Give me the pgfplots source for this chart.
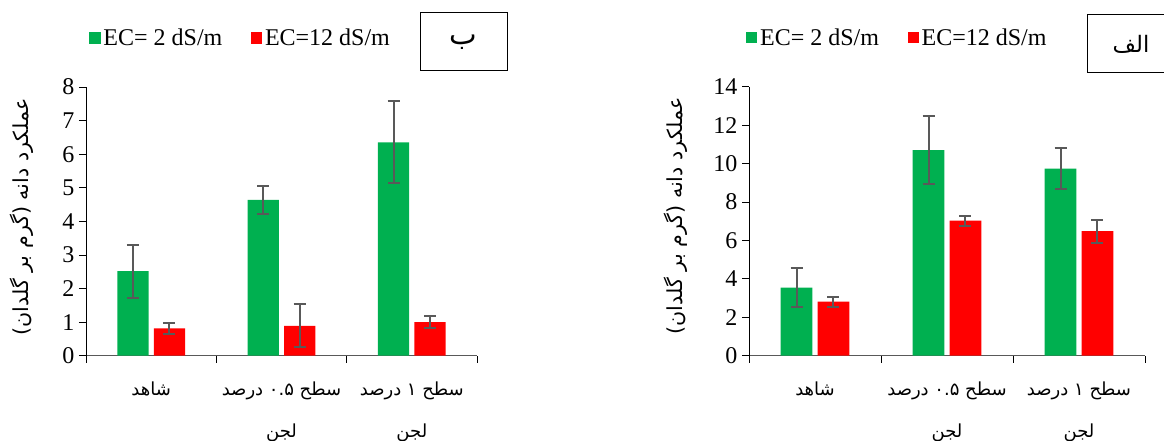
\documentclass[border=0pt]{standalone}
\usepackage{fontspec}
\setmainfont{Liberation Serif}
\newfontfamily\arabicfont[Script=Arabic]{DejaVu Sans}
\TeXXeTstate=1
\usepackage{pgfplots}
\pgfplotsset{compat=1.18}
\definecolor{cgreen}{HTML}{00B050}
\definecolor{cred}{HTML}{FF0000}
\definecolor{errgray}{HTML}{595959}
\pgfplotsset{
  panel/.style={
    scale only axis,
    axis lines*=left,
    tick align=outside,
    xmin=0.5, xmax=3.5, ymin=0,
    ybar, bar width=0.24,
    xtick={1,2,3},
    minor xtick={0.5,1.5,2.5,3.5},
    every major x tick/.append style={draw=none},
    major tick length=5.25pt, minor tick length=5.25pt,
    x axis line style={color=errgray, line width=0.8pt},
    y axis line style={color=black, line width=0.6pt},
    every tick/.append style={color=black, line width=0.6pt},
    /pgf/number format/assume math mode=true,
    yticklabel style={font=\fontsize{18}{22}\selectfont},
    xticklabel style={font=\arabicfont\fontsize{13.5}{31}\selectfont, align=center, anchor=north, yshift=-11pt},
    xticklabels={{\beginR شاهد\endR},{\beginR سطح ۰.۵ درصد\endR\\\beginR لجن\endR},{\beginR سطح ۱ درصد\endR\\\beginR لجن\endR}},
    ylabel={\beginR عملکرد دانه (گرم بر گلدان)\endR},
    ylabel style={font=\arabicfont\fontsize{15.5}{18}\selectfont, anchor=center},
    legend columns=2,
    legend style={draw=none, fill=none, font=\fontsize{18}{22}\selectfont, anchor=west,
      /tikz/every even column/.append style={column sep=19.5pt},
      nodes={inner sep=2pt}},
    legend image code/.code={\fill[##1,draw=none] (0pt,-4.25pt) rectangle (8.5pt,4.25pt);},
  },
  eb/.style={error bars/.cd, y dir=both, y explicit,
    error bar style={line width=1.5pt, color=errgray},
    error mark options={rotate=90, mark size=4.5pt, line width=1.5pt, color=errgray}},
}
\begin{document}
\begin{tikzpicture}
\useasboundingbox (0,0) rectangle (873pt,330.75pt);
% left panel (b)
\begin{axis}[panel, at={(64.5pt,63.975pt)}, anchor=south west,
  width=293.25pt, height=201.5pt, ymax=8, ytick={0,1,...,8},
  ylabel style={at={(axis description cs:-0.164,0.516)}},
  legend style={at={(axis description cs:-0.002,1.182)}}]
\addplot[fill=cgreen, draw=none, bar shift=-0.14, eb] coordinates {(1,2.52) +- (0,0.79) (2,4.64) +- (0,0.41) (3,6.35) +- (0,1.22)};
\addplot[fill=cred, draw=none, bar shift=0.14, eb] coordinates {(1,0.81) +- (0,0.17) (2,0.89) +- (0,0.64) (3,1.00) +- (0,0.18)};
\legend{EC= 2 dS/m, EC=12 dS/m}
\end{axis}
% right panel (alef)
\begin{axis}[panel, at={(561.75pt,63.975pt)}, anchor=south west,
  width=297pt, height=201.75pt, ymax=14, ytick={0,2,...,14},
  ylabel style={at={(axis description cs:-0.184,0.52)}},
  legend style={at={(axis description cs:-0.018,1.182)}}]
\addplot[fill=cgreen, draw=none, bar shift=-0.14, eb] coordinates {(1,3.54) +- (0,1.03) (2,10.70) +- (0,1.79) (3,9.74) +- (0,1.07)};
\addplot[fill=cred, draw=none, bar shift=0.14, eb] coordinates {(1,2.82) +- (0,0.26) (2,7.03) +- (0,0.26) (3,6.48) +- (0,0.60)};
\legend{EC= 2 dS/m, EC=12 dS/m}
\end{axis}
\draw[line width=0.75pt] (315pt,277.5pt) rectangle (380.25pt,321pt);
\node[font=\arabicfont\fontsize{22}{26}\selectfont] at (347.6pt,299.25pt) {\beginR ب\endR};
\draw[line width=0.75pt] (815.25pt,276pt) rectangle (880pt,319.5pt);
\node[font=\arabicfont\fontsize{17}{20}\selectfont] at (848.25pt,297.75pt) {\beginR الف\endR};
\end{tikzpicture}
\end{document}
